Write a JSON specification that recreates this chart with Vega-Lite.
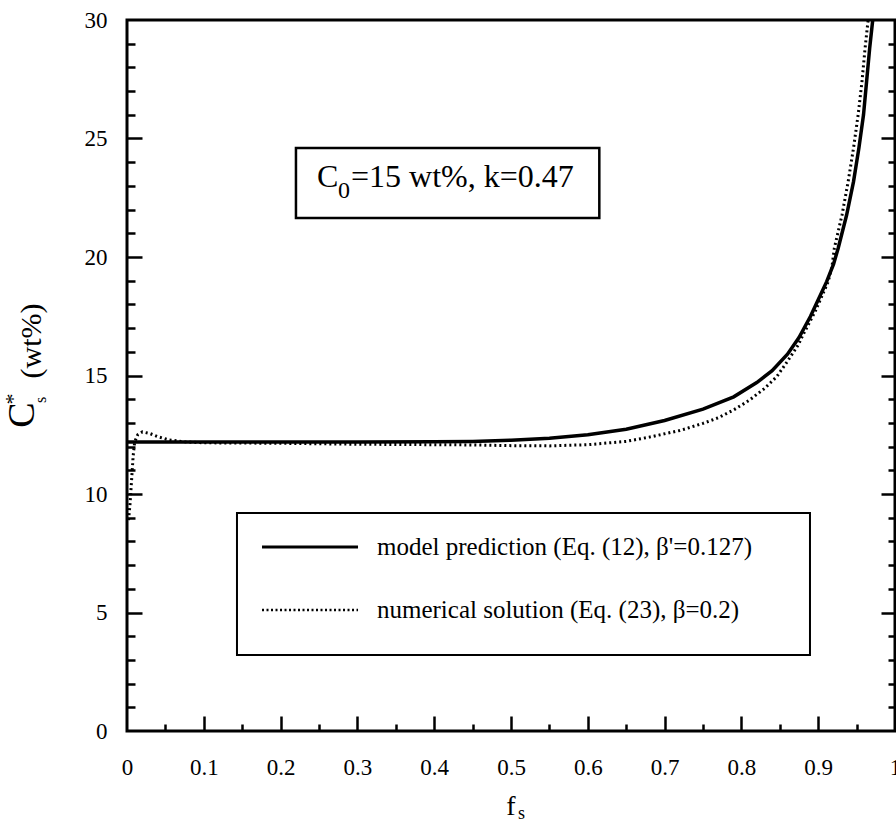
{
  "$schema": "https://vega.github.io/schema/vega-lite/v6.json",
  "width": 768,
  "height": 711,
  "autosize": {"type": "none"},
  "padding": {"left": 127, "top": 20, "right": 1, "bottom": 108},
  "background": "white",
  "config": {
    "view": {"stroke": "black", "strokeWidth": 3},
    "axis": {"grid": false, "domain": false, "tickColor": "black", "tickWidth": 2.5, "labelFont": "Liberation Serif", "labelFontSize": 23, "labelColor": "black", "labelFlush": false, "labelOverlap": false, "format": "~g"},
    "text": {"font": "Liberation Serif", "color": "black"}
  },
  "data": {"values": [{}]},
  "datasets": {
    "model": [
      {"f": 0, "c": 12.19}, {"f": 0.1, "c": 12.19}, {"f": 0.2, "c": 12.19}, {"f": 0.3, "c": 12.19},
      {"f": 0.4, "c": 12.2}, {"f": 0.45, "c": 12.22}, {"f": 0.5, "c": 12.27}, {"f": 0.55, "c": 12.35},
      {"f": 0.6, "c": 12.5}, {"f": 0.65, "c": 12.73}, {"f": 0.7, "c": 13.1}, {"f": 0.75, "c": 13.58},
      {"f": 0.79, "c": 14.1}, {"f": 0.82, "c": 14.7}, {"f": 0.84, "c": 15.2}, {"f": 0.86, "c": 15.9},
      {"f": 0.875, "c": 16.6}, {"f": 0.89, "c": 17.5}, {"f": 0.9, "c": 18.2}, {"f": 0.911, "c": 18.96},
      {"f": 0.92, "c": 19.7}, {"f": 0.926, "c": 20.37}, {"f": 0.937, "c": 21.77}, {"f": 0.946, "c": 23.18},
      {"f": 0.953, "c": 24.6}, {"f": 0.959, "c": 26.0}, {"f": 0.963, "c": 27.4}, {"f": 0.967, "c": 28.8},
      {"f": 0.971, "c": 30}
    ],
    "numerical": [
      {"f": 0.002, "c": 8.9}, {"f": 0.004, "c": 9.6}, {"f": 0.006, "c": 10.6}, {"f": 0.008, "c": 11.6},
      {"f": 0.010, "c": 12.2}, {"f": 0.014, "c": 12.5}, {"f": 0.02, "c": 12.62}, {"f": 0.03, "c": 12.55},
      {"f": 0.04, "c": 12.42}, {"f": 0.055, "c": 12.28}, {"f": 0.075, "c": 12.2}, {"f": 0.1, "c": 12.16},
      {"f": 0.2, "c": 12.14}, {"f": 0.3, "c": 12.1}, {"f": 0.4, "c": 12.08}, {"f": 0.45, "c": 12.07},
      {"f": 0.5, "c": 12.04}, {"f": 0.55, "c": 12.03}, {"f": 0.6, "c": 12.08}, {"f": 0.65, "c": 12.22},
      {"f": 0.68, "c": 12.4}, {"f": 0.72, "c": 12.68}, {"f": 0.75, "c": 12.98}, {"f": 0.77, "c": 13.22},
      {"f": 0.79, "c": 13.55}, {"f": 0.81, "c": 13.95}, {"f": 0.83, "c": 14.45}, {"f": 0.846, "c": 14.95},
      {"f": 0.86, "c": 15.6}, {"f": 0.874, "c": 16.29}, {"f": 0.88, "c": 16.7}, {"f": 0.896, "c": 17.7},
      {"f": 0.913, "c": 18.96}, {"f": 0.918, "c": 19.6}, {"f": 0.921, "c": 20.37}, {"f": 0.931, "c": 21.77},
      {"f": 0.939, "c": 23.18}, {"f": 0.946, "c": 24.6}, {"f": 0.952, "c": 26.0}, {"f": 0.957, "c": 27.4},
      {"f": 0.961, "c": 28.8}, {"f": 0.965, "c": 30}
    ]
  },
  "layer": [
    {
      "mark": {"type": "rect", "fill": "white", "stroke": "black", "strokeWidth": 2.5},
      "encoding": {
        "x": {"datum": 0.22, "type": "quantitative", "scale": {"domain": [0, 1], "nice": false, "zero": false}, "axis": null},
        "x2": {"datum": 0.615},
        "y": {"datum": 24.6, "type": "quantitative", "scale": {"domain": [0, 30], "nice": false, "zero": false}, "axis": null},
        "y2": {"datum": 21.65}
      }
    },
    {
      "data": {"name": "model"},
      "mark": {"type": "line", "color": "black", "strokeWidth": 3.5, "clip": true},
      "encoding": {
        "x": {"field": "f", "type": "quantitative", "scale": {"domain": [0, 1], "nice": false, "zero": false},
              "axis": {"orient": "bottom", "values": [0, 0.1, 0.2, 0.3, 0.4, 0.5, 0.6, 0.7, 0.8, 0.9, 1], "ticks": false, "labelPadding": 25, "title": null}},
        "y": {"field": "c", "type": "quantitative", "scale": {"domain": [0, 30], "nice": false, "zero": false},
              "axis": {"orient": "left", "values": [0, 5, 10, 15, 20, 25, 30], "ticks": false, "labelPadding": 20, "title": null}}
      }
    },
    {
      "data": {"name": "numerical"},
      "mark": {"type": "line", "color": "black", "strokeWidth": 3, "strokeDash": [2, 3], "clip": true},
      "encoding": {
        "x": {"field": "f", "type": "quantitative", "scale": {"domain": [0, 1], "nice": false, "zero": false},
              "axis": {"orient": "bottom", "values": [0.1, 0.2, 0.3, 0.4, 0.5, 0.6, 0.7, 0.8, 0.9], "labels": false, "tickSize": -15, "title": null}},
        "y": {"field": "c", "type": "quantitative", "scale": {"domain": [0, 30], "nice": false, "zero": false},
              "axis": {"orient": "left", "values": [5, 10, 15, 20, 25], "labels": false, "tickSize": -15, "title": null}}
      }
    },
    {
      "mark": {"type": "rect", "fill": "white", "stroke": "black", "strokeWidth": 2},
      "encoding": {
        "x": {"datum": 0.1432, "type": "quantitative", "scale": {"domain": [0, 1], "nice": false, "zero": false},
              "axis": {"orient": "bottom", "values": [0.05, 0.15, 0.25, 0.35, 0.45, 0.55, 0.65, 0.75, 0.85, 0.95], "labels": false, "tickSize": -7, "title": null}},
        "x2": {"datum": 0.8893},
        "y": {"datum": 9.2, "type": "quantitative", "scale": {"domain": [0, 30], "nice": false, "zero": false},
              "axis": {"orient": "left", "values": [1, 2, 3, 4, 6, 7, 8, 9, 11, 12, 13, 14, 16, 17, 18, 19, 21, 22, 23, 24, 26, 27, 28, 29], "labels": false, "tickSize": -8, "title": null}},
        "y2": {"datum": 3.21}
      }
    },
    {
      "mark": {"type": "rule", "color": "black", "strokeWidth": 3},
      "encoding": {
        "x": {"datum": 0.1758, "type": "quantitative", "scale": {"domain": [0, 1], "nice": false, "zero": false}, "axis": null},
        "x2": {"datum": 0.3008},
        "y": {"datum": 7.76, "type": "quantitative", "scale": {"domain": [0, 30], "nice": false, "zero": false},
              "axis": {"orient": "right", "values": [5, 10, 15, 20, 25], "labels": false, "tickSize": -14, "title": null}}
      }
    },
    {
      "mark": {"type": "rule", "color": "black", "strokeWidth": 2.5, "strokeDash": [2, 2.5]},
      "encoding": {
        "x": {"datum": 0.1758, "type": "quantitative", "scale": {"domain": [0, 1], "nice": false, "zero": false}, "axis": null},
        "x2": {"datum": 0.3008},
        "y": {"datum": 5.105, "type": "quantitative", "scale": {"domain": [0, 30], "nice": false, "zero": false},
              "axis": {"orient": "right", "values": [1, 2, 3, 4, 6, 7, 8, 9, 11, 12, 13, 14, 16, 17, 18, 19, 21, 22, 23, 24, 26, 27, 28, 29], "labels": false, "tickSize": -7, "title": null}}
      }
    },
    {
      "mark": {"type": "text", "text": "model prediction (Eq. (12), β'=0.127)", "fontSize": 25, "align": "left", "baseline": "middle"},
      "encoding": {
        "x": {"datum": 0.3255, "type": "quantitative", "scale": {"domain": [0, 1], "nice": false, "zero": false}, "axis": null},
        "y": {"datum": 7.76, "type": "quantitative", "scale": {"domain": [0, 30], "nice": false, "zero": false}, "axis": null}
      }
    },
    {
      "mark": {"type": "text", "text": "numerical solution (Eq. (23), β=0.2)", "fontSize": 25, "align": "left", "baseline": "middle"},
      "encoding": {
        "x": {"datum": 0.3255, "type": "quantitative", "scale": {"domain": [0, 1], "nice": false, "zero": false}, "axis": null},
        "y": {"datum": 5.105, "type": "quantitative", "scale": {"domain": [0, 30], "nice": false, "zero": false}, "axis": null}
      }
    },
    {
      "mark": {"type": "text", "text": "C", "fontSize": 32, "align": "left", "baseline": "alphabetic"},
      "encoding": {
        "x": {"datum": 0.2474, "type": "quantitative", "scale": {"domain": [0, 1], "nice": false, "zero": false}, "axis": null},
        "y": {"datum": 22.95, "type": "quantitative", "scale": {"domain": [0, 30], "nice": false, "zero": false}, "axis": null}
      }
    },
    {
      "mark": {"type": "text", "text": "0", "fontSize": 24, "align": "left", "baseline": "alphabetic", "dx": 21},
      "encoding": {
        "x": {"datum": 0.2474, "type": "quantitative", "scale": {"domain": [0, 1], "nice": false, "zero": false}, "axis": null},
        "y": {"datum": 22.49, "type": "quantitative", "scale": {"domain": [0, 30], "nice": false, "zero": false}, "axis": null}
      }
    },
    {
      "mark": {"type": "text", "text": "=15 wt%, k=0.47", "fontSize": 32, "align": "left", "baseline": "alphabetic", "dx": 34},
      "encoding": {
        "x": {"datum": 0.2474, "type": "quantitative", "scale": {"domain": [0, 1], "nice": false, "zero": false}, "axis": null},
        "y": {"datum": 22.95, "type": "quantitative", "scale": {"domain": [0, 30], "nice": false, "zero": false}, "axis": null}
      }
    },
    {
      "mark": {"type": "text", "text": "f", "fontSize": 28, "align": "center", "baseline": "alphabetic"},
      "encoding": {
        "x": {"datum": 0.5, "type": "quantitative", "scale": {"domain": [0, 1], "nice": false, "zero": false}, "axis": null},
        "y": {"datum": -3.54, "type": "quantitative", "scale": {"domain": [0, 30], "nice": false, "zero": false}, "axis": null}
      }
    },
    {
      "mark": {"type": "text", "text": "s", "fontSize": 18, "align": "left", "baseline": "alphabetic"},
      "encoding": {
        "x": {"datum": 0.509, "type": "quantitative", "scale": {"domain": [0, 1], "nice": false, "zero": false}, "axis": null},
        "y": {"datum": -3.71, "type": "quantitative", "scale": {"domain": [0, 30], "nice": false, "zero": false}, "axis": null}
      }
    },
    {
      "mark": {"type": "text", "text": "C", "fontSize": 38, "align": "center", "baseline": "middle", "angle": 270},
      "encoding": {
        "x": {"datum": -0.1354, "type": "quantitative", "scale": {"domain": [0, 1], "nice": false, "zero": false}, "axis": null},
        "y": {"datum": 13.33, "type": "quantitative", "scale": {"domain": [0, 30], "nice": false, "zero": false}, "axis": null}
      }
    },
    {
      "mark": {"type": "text", "text": "*", "fontSize": 22, "align": "center", "baseline": "middle", "angle": 270},
      "encoding": {
        "x": {"datum": -0.1484, "type": "quantitative", "scale": {"domain": [0, 1], "nice": false, "zero": false}, "axis": null},
        "y": {"datum": 14.01, "type": "quantitative", "scale": {"domain": [0, 30], "nice": false, "zero": false}, "axis": null}
      }
    },
    {
      "mark": {"type": "text", "text": "s", "fontSize": 16, "align": "center", "baseline": "middle", "angle": 270},
      "encoding": {
        "x": {"datum": -0.112, "type": "quantitative", "scale": {"domain": [0, 1], "nice": false, "zero": false}, "axis": null},
        "y": {"datum": 13.97, "type": "quantitative", "scale": {"domain": [0, 30], "nice": false, "zero": false}, "axis": null}
      }
    },
    {
      "mark": {"type": "text", "text": "(wt%)", "fontSize": 30, "align": "center", "baseline": "middle", "angle": 270},
      "encoding": {
        "x": {"datum": -0.1237, "type": "quantitative", "scale": {"domain": [0, 1], "nice": false, "zero": false}, "axis": null},
        "y": {"datum": 16.46, "type": "quantitative", "scale": {"domain": [0, 30], "nice": false, "zero": false}, "axis": null}
      }
    }
  ],
  "resolve": {"axis": {"x": "independent", "y": "independent"}}
}
